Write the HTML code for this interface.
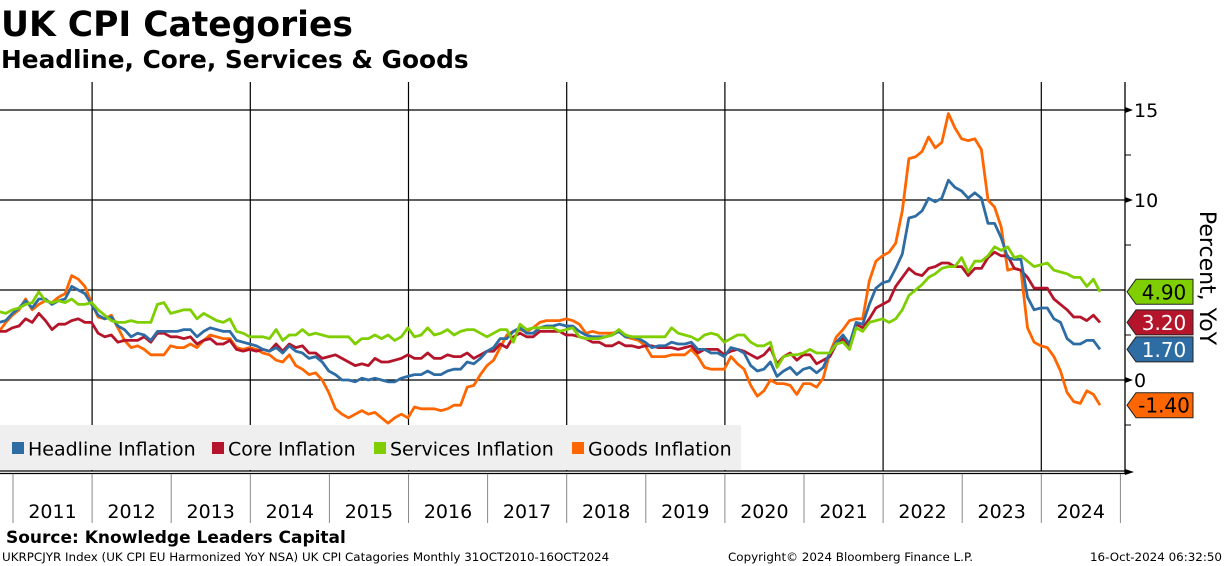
<!DOCTYPE html>
<html><head><meta charset="utf-8"><style>
body{margin:0;background:#fff;width:1224px;height:566px;overflow:hidden;font-family:"DejaVu Sans","Liberation Sans",sans-serif}
svg{position:absolute;left:0;top:0}
</style></head><body>
<svg id="c" width="1224" height="566" font-family="DejaVu Sans, Liberation Sans, sans-serif">
<text x="1" y="36" font-size="34.5" font-weight="bold">UK CPI Categories</text>
<text x="1" y="68" font-size="24.8" font-weight="bold">Headline, Core, Services &amp; Goods</text>
<g id="grid"></g>
<rect x="0" y="425" width="741" height="45" fill="#efefef"/>
<g id="series"></g>
<g id="axes"></g>
<g id="legend"></g>
<text transform="translate(1200,278) rotate(90)" text-anchor="middle" font-size="22">Percent, YoY</text>
<text x="6" y="543" font-size="17" font-weight="bold">Source: Knowledge Leaders Capital</text>
<text x="2" y="561" font-size="11.9">UKRPCJYR Index (UK CPI EU Harmonized YoY NSA) UK CPI Catagories  Monthly 31OCT2010-16OCT2024</text>
<text x="728" y="561" font-size="11.9">Copyright© 2024 Bloomberg Finance L.P.</text>
<text x="1222" y="561" font-size="11.9" text-anchor="end">16-Oct-2024 06:32:50</text>
</svg>
<script>
const years=["2011","2012","2013","2014","2015","2016","2017","2018","2019","2020","2021","2022","2023","2024"];
const yTicks=[15,10,0];
const seriesNames=["Headline Inflation","Core Inflation","Services Inflation","Goods Inflation"];
const headline=[3.2,3.3,3.7,
4.0,4.4,4.0,4.5,4.5,4.2,4.4,4.5,5.2,5.0,4.8,4.2,
3.6,3.4,3.5,3.0,2.8,2.4,2.6,2.5,2.2,2.7,2.7,2.7,
2.7,2.8,2.8,2.4,2.7,2.9,2.8,2.7,2.7,2.2,2.1,2.0,
1.9,1.7,1.6,1.8,1.5,1.9,1.6,1.5,1.2,1.3,1.0,0.5,
0.3,0.0,0.0,-0.1,0.1,0.0,0.1,0.0,-0.1,-0.1,0.1,0.2,
0.3,0.3,0.5,0.3,0.3,0.5,0.6,0.6,1.0,0.9,1.2,1.6,
1.8,2.3,2.3,2.7,2.9,2.6,2.6,2.9,3.0,3.0,3.1,3.0,
3.0,2.7,2.5,2.4,2.4,2.4,2.5,2.7,2.4,2.4,2.3,2.1,
1.8,1.9,1.9,2.1,2.0,2.0,2.1,1.7,1.7,1.5,1.5,1.3,
1.8,1.7,1.5,0.8,0.5,0.6,1.0,0.2,0.5,0.7,0.3,0.6,
0.7,0.4,0.7,1.5,2.1,2.5,2.0,3.2,3.1,4.2,5.1,5.4,
5.5,6.2,7.0,9.0,9.1,9.4,10.1,9.9,10.1,11.1,10.7,10.5,
10.1,10.4,10.1,8.7,8.7,7.9,6.8,6.7,6.7,4.6,3.9,4.0,
4.0,3.4,3.2,2.3,2.0,2.0,2.2,2.2,1.7];
const core=[2.7,2.7,2.9,
3.0,3.4,3.2,3.7,3.3,2.8,3.1,3.1,3.3,3.4,3.2,3.2,
2.6,2.4,2.5,2.1,2.2,2.2,2.2,2.4,2.1,2.6,2.6,2.4,
2.4,2.3,2.4,2.0,2.2,2.3,2.0,2.0,2.2,1.7,1.6,1.7,
1.6,1.7,1.6,2.0,1.6,2.0,1.8,1.9,1.5,1.5,1.2,1.3,
1.4,1.2,1.0,0.8,0.9,0.8,1.2,1.0,1.0,1.1,1.2,1.4,
1.2,1.2,1.5,1.2,1.2,1.4,1.3,1.3,1.5,1.2,1.4,1.6,
1.6,2.0,1.8,2.4,2.6,2.4,2.4,2.7,2.7,2.7,2.7,2.5,
2.5,2.4,2.3,2.1,2.1,1.9,1.9,2.1,1.9,1.9,1.8,1.9,
1.9,1.8,1.8,1.8,1.7,1.8,1.9,1.5,1.7,1.7,1.7,1.4,
1.6,1.7,1.6,1.4,1.2,1.4,1.8,0.9,1.3,1.5,1.1,1.4,
1.4,0.9,1.1,1.3,2.0,2.3,1.8,3.1,2.9,3.4,4.0,4.2,
4.4,5.2,5.7,6.2,5.9,5.8,6.2,6.3,6.5,6.5,6.3,6.3,
5.8,6.2,6.2,6.8,7.1,6.9,6.9,6.2,6.1,5.7,5.1,5.1,
5.1,4.5,4.2,3.9,3.5,3.5,3.3,3.6,3.2];
const services=[3.8,3.7,3.9,
4.0,4.2,4.3,4.9,4.4,4.3,4.4,4.3,4.5,4.2,4.2,4.3,
3.9,3.6,3.3,3.2,3.2,3.3,3.2,3.2,3.2,4.2,4.3,3.7,
3.8,3.9,3.9,3.4,3.7,3.5,3.3,3.2,3.4,2.7,2.6,2.4,
2.4,2.4,2.3,2.8,2.2,2.5,2.5,2.8,2.5,2.6,2.5,2.4,
2.4,2.4,2.4,2.0,2.3,2.3,2.5,2.3,2.5,2.2,2.4,2.9,
2.4,2.5,2.9,2.5,2.6,2.8,2.5,2.7,2.8,2.8,2.6,2.4,
2.6,2.8,2.8,2.1,3.1,2.8,2.9,2.9,2.9,2.9,2.7,2.8,
2.9,2.4,2.3,2.3,2.3,2.4,2.5,2.8,2.5,2.4,2.4,2.4,
2.4,2.4,2.4,2.9,2.6,2.5,2.4,2.2,2.5,2.6,2.5,2.1,
2.3,2.5,2.5,2.1,1.9,1.9,2.1,0.7,1.3,1.4,1.4,1.5,
1.7,1.5,1.5,1.5,2.0,2.1,1.7,2.9,2.7,3.2,3.3,3.4,
3.2,3.4,3.9,4.7,5.0,5.3,5.7,5.9,6.2,6.3,6.3,6.8,
6.0,6.6,6.6,6.9,7.4,7.2,7.4,6.8,6.9,6.6,6.3,6.4,
6.5,6.1,6.0,5.9,5.7,5.7,5.2,5.6,4.9];
const goods=[2.7,3.2,3.6,
3.9,4.5,3.9,4.2,4.4,4.3,4.6,4.8,5.8,5.6,5.2,4.3,
3.5,3.4,3.6,2.9,2.2,1.8,1.9,1.7,1.4,1.4,1.4,1.9,
1.8,1.8,2.0,1.8,2.2,2.5,2.4,2.3,2.3,1.8,1.7,1.8,
1.7,1.5,1.4,1.1,1.0,1.4,0.8,0.6,0.3,0.4,0.0,-0.7,
-1.6,-1.9,-2.1,-1.9,-1.7,-1.9,-1.8,-2.1,-2.4,-2.1,-1.9,-2.1,
-1.5,-1.6,-1.6,-1.6,-1.7,-1.6,-1.4,-1.4,-0.4,-0.3,0.3,0.8,
1.1,1.8,2.5,2.7,2.8,2.7,2.9,3.2,3.3,3.3,3.3,3.4,
3.3,3.1,2.6,2.7,2.6,2.6,2.6,2.7,2.4,2.3,2.2,1.9,
1.3,1.3,1.3,1.4,1.4,1.4,1.7,1.3,0.7,0.6,0.6,0.6,
1.3,0.9,0.6,-0.3,-0.9,-0.6,0.0,-0.2,-0.2,-0.3,-0.8,-0.2,
-0.2,-0.4,0.1,1.5,2.4,2.8,3.3,3.4,3.4,5.5,6.6,6.9,
7.1,7.6,9.4,12.3,12.4,12.7,13.5,12.9,13.2,14.8,14.0,13.4,
13.3,13.4,12.8,10.0,9.6,8.5,6.1,6.2,6.1,2.9,2.1,1.9,
1.8,1.3,0.5,-0.7,-1.2,-1.3,-0.6,-0.8,-1.4];
const NS='http://www.w3.org/2000/svg';
const X0=13, MW=79.1/12;
const xm=i=>X0+(i-3)*MW+6;
const xy=yi=>X0+yi*79.1;
const yv=v=>380-v*18;
function mk(t,a,p){const e=document.createElementNS(NS,t);for(const k in a)e.setAttribute(k,a[k]);p.appendChild(e);return e;}
const grid=document.getElementById('grid'),axes=document.getElementById('axes'),ser=document.getElementById('series'),leg=document.getElementById('legend');
[15,10,5,0].forEach(v=>{const l=mk('line',{x1:0,x2:1125,y1:yv(v),y2:yv(v),stroke:'#000','stroke-width':1.3},grid);

});
for(let k=1;k<years.length;k+=2){const l=mk('line',{x1:xy(k),x2:xy(k),y1:82,y2:471,stroke:'#000','stroke-width':1.2},grid);

}
const cols=['#2e6ca4','#b5152b','#7fce00','#ff6600'];
const data=[headline,core,services,goods];
const order=[3,1,0,2];
order.forEach(s=>{const d=data[s].map((v,i)=>(i?'L':'M')+xm(i).toFixed(1)+' '+yv(v).toFixed(1)).join('');
const p=mk('path',{d:d,fill:'none',stroke:cols[s],'stroke-width':2.8,'stroke-linejoin':'round'},ser);

});
mk('line',{x1:0,x2:1127,y1:471,y2:471,stroke:'#000','stroke-width':1.3},axes);
mk('line',{x1:0,x2:1125,y1:473.5,y2:473.5,stroke:'#000','stroke-width':1.3},axes);
mk('polygon',{points:'1125,469 1134,472 1125,475',fill:'#000'},axes);
mk('line',{x1:1125,x2:1125,y1:82,y2:474,stroke:'#000','stroke-width':1.3},axes);
for(let k=0;k<=years.length;k++){const l=mk('line',{x1:xy(k),x2:xy(k),y1:474,y2:523,stroke:'#888','stroke-width':1},axes);

}
years.forEach((y,k)=>{const t=mk('text',{x:xy(k)+39.5,y:518,'font-size':19,'text-anchor':'middle'},axes);t.textContent=y;

});
[12.5,7.5,2.5,-2.5].forEach(v=>{mk('line',{x1:1125,x2:1131,y1:yv(v),y2:yv(v),stroke:'#000'},axes);});
yTicks.forEach(v=>{mk('polygon',{points:`1125,${yv(v)-3} 1133,${yv(v)} 1125,${yv(v)+3}`,fill:'#000'},axes);
const t=mk('text',{x:1134,y:yv(v)+7,'font-size':19},axes);t.textContent=v;

});
const lastTxt=['1.70','3.20','4.90','-1.40'];
const tcol=['#fff','#fff','#000','#000'];
[2,1,0,3].forEach(s=>{const v=data[s][data[s].length-1];let cy=yv(v);
const g=mk('g',{},axes);


mk('polygon',{points:`1127,${cy} 1136,${cy-12.5} 1193,${cy-12.5} 1193,${cy+12.5} 1136,${cy+12.5}`,fill:cols[s],stroke:'#222','stroke-width':1},g);
const t=mk('text',{x:1164,y:cy+7.5,'font-size':20,'text-anchor':'middle',fill:tcol[s]},g);t.textContent=lastTxt[s];});
let lx=12;
const lw=[200,162,198,170];
seriesNames.forEach((n,s)=>{const g=mk('g',{},leg);


mk('rect',{x:lx,y:442,width:12,height:12,fill:cols[s]},g);
const t=mk('text',{x:lx+16,y:455.5,'font-size':19},g);t.textContent=n;lx+=lw[s];});
</script>
</body></html>
